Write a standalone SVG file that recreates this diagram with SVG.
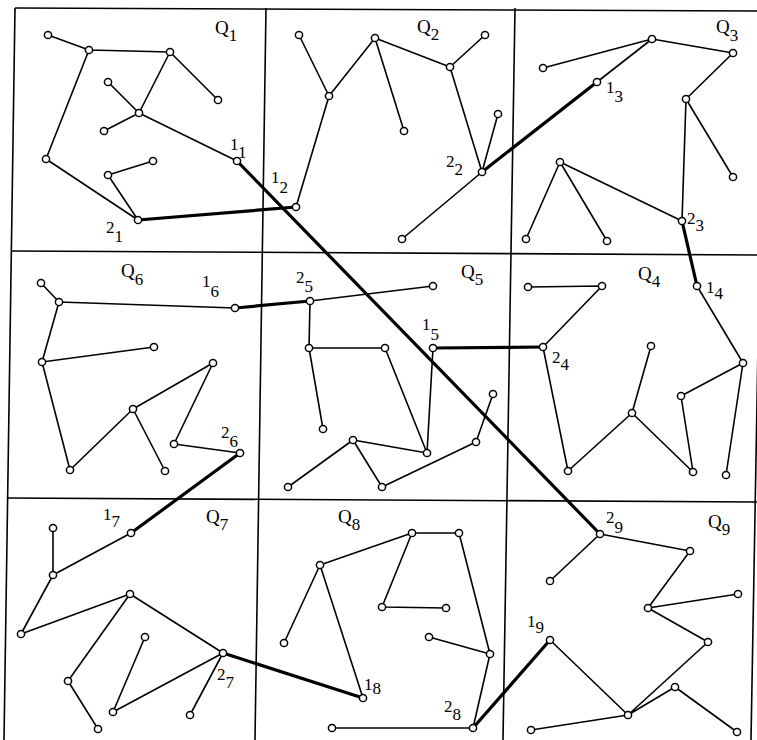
<svg xmlns="http://www.w3.org/2000/svg" width="757" height="740" viewBox="0 0 757 740">
<style>
.grid line{stroke:#000;stroke-width:1.6}
.gh{stroke-width:2.4}
.e{stroke:#000;stroke-width:1.6;fill:none}
.t{stroke:#000;stroke-width:3.2;fill:none}
.n circle{fill:#fff;stroke:#000;stroke-width:1.5}
text{font-family:"Liberation Serif","Times New Roman",serif;fill:#000}
.q{font-size:19px}
.d{font-size:17px}
</style>
<rect width="757" height="740" fill="#fff"/>
<g class="grid" id="grid">
<line class="gh" x1="15" y1="8" x2="757" y2="11"/>
<line class="gh" x1="12" y1="251" x2="757" y2="255"/>
<line class="gh" x1="7" y1="498" x2="757" y2="502"/>
<line x1="15" y1="8" x2="4" y2="740"/>
<line x1="266" y1="8" x2="255" y2="740"/>
<line x1="515" y1="8" x2="503" y2="740"/>
<line x1="764" y1="8" x2="751" y2="740"/>
</g>
<g id="connectors">
<g class="e">
<path d="M48,35L89,50M89,50L170,52M170,52L218,100M170,52L139,113M108,82L139,113M139,113L104,131M139,113L237,161M89,50L46,159M46,159L138,220M108,175L153,161M108,175L138,220"/>
<path d="M299,35L329,96M329,96L375,38M375,38L404,131M375,38L450,67M450,67L485,35M450,67L482,172M482,172L498,114M329,96L296,207M482,172L402,239"/>
<path d="M543,68L652,39M652,39L733,53M652,39L597,82M733,53L686,99M686,99L733,177M686,99L682,221M560,162L682,221M560,162L526,239M560,162L607,241"/>
<path d="M41,283L59,302M59,302L235,308M59,302L42,362M42,362L154,347M42,362L70,470M70,470L133,409M133,409L213,363M133,409L165,471M213,363L174,444M174,444L240,453"/>
<path d="M310,301L433,286M310,301L309,348M309,348L385,348M309,348L323,429M385,348L427,453M433,348L427,453M353,440L427,453M353,440L288,487M353,440L382,487M382,487L476,442M476,442L493,394"/>
<path d="M528,287L602,286M602,286L543,347M543,347L568,471M568,471L632,413M632,413L651,346M632,413L693,472M693,472L681,396M681,396L743,363M743,363L697,286M743,363L726,475"/>
<path d="M131,533L53,575M53,528L53,575M53,575L21,634M21,634L130,594M130,594L223,653M130,594L68,681M68,681L98,729M145,637L113,712M113,712L223,653M223,653L190,715"/>
<path d="M320,565L412,533M412,533L459,533M412,533L382,607M382,607L446,608M459,533L490,654M429,637L490,654M490,654L473,728M320,565L284,643M320,565L363,698M332,728L473,728"/>
<path d="M600,534L690,551M600,534L550,581M690,551L648,608M648,608L738,594M648,608L708,642M708,642L628,715M550,640L628,715M628,715L675,687M675,687L737,732M628,715L531,730"/>
</g>
<g class="t">
<path d="M237,161L600,534M138,220L296,207M482,172L597,82M682,221L697,286M433,348L543,347M235,308L310,301M240,453L131,533M223,653L363,698M473,728L550,640"/>
</g>
</g>
<g class="n">
<g id="q1a"><circle cx="48" cy="35" r="3.6"/></g>
<g id="q1b"><circle cx="89" cy="50" r="3.6"/></g>
<g id="q1c"><circle cx="170" cy="52" r="3.6"/></g>
<g id="q1d"><circle cx="218" cy="100" r="3.6"/></g>
<g id="q1e"><circle cx="108" cy="82" r="3.6"/></g>
<g id="q1f"><circle cx="139" cy="113" r="3.6"/></g>
<g id="q1g"><circle cx="104" cy="131" r="3.6"/></g>
<g id="q1h"><circle cx="46" cy="159" r="3.6"/></g>
<g id="q1i"><circle cx="153" cy="161" r="3.6"/></g>
<g id="q1j"><circle cx="108" cy="175" r="3.6"/></g>
<g id="n2_1"><circle cx="138" cy="220" r="3.6"/></g>
<g id="n1_1"><circle cx="237" cy="161" r="3.6"/></g>
<g id="q2a"><circle cx="299" cy="35" r="3.6"/></g>
<g id="q2b"><circle cx="375" cy="38" r="3.6"/></g>
<g id="q2c"><circle cx="485" cy="35" r="3.6"/></g>
<g id="q2d"><circle cx="450" cy="67" r="3.6"/></g>
<g id="q2e"><circle cx="329" cy="96" r="3.6"/></g>
<g id="q2f"><circle cx="404" cy="131" r="3.6"/></g>
<g id="q2g"><circle cx="498" cy="114" r="3.6"/></g>
<g id="n2_2"><circle cx="482" cy="172" r="3.6"/></g>
<g id="n1_2"><circle cx="296" cy="207" r="3.6"/></g>
<g id="q2j"><circle cx="402" cy="239" r="3.6"/></g>
<g id="q3a"><circle cx="543" cy="68" r="3.6"/></g>
<g id="q3b"><circle cx="652" cy="39" r="3.6"/></g>
<g id="q3c"><circle cx="733" cy="53" r="3.6"/></g>
<g id="n1_3"><circle cx="597" cy="82" r="3.6"/></g>
<g id="q3e"><circle cx="686" cy="99" r="3.6"/></g>
<g id="q3f"><circle cx="733" cy="177" r="3.6"/></g>
<g id="q3g"><circle cx="560" cy="162" r="3.6"/></g>
<g id="n2_3"><circle cx="682" cy="221" r="3.6"/></g>
<g id="q3i"><circle cx="526" cy="239" r="3.6"/></g>
<g id="q3j"><circle cx="607" cy="241" r="3.6"/></g>
<g id="q6a"><circle cx="41" cy="283" r="3.6"/></g>
<g id="q6b"><circle cx="59" cy="302" r="3.6"/></g>
<g id="n1_6"><circle cx="235" cy="308" r="3.6"/></g>
<g id="q6d"><circle cx="42" cy="362" r="3.6"/></g>
<g id="q6e"><circle cx="154" cy="347" r="3.6"/></g>
<g id="q6f"><circle cx="213" cy="363" r="3.6"/></g>
<g id="q6g"><circle cx="133" cy="409" r="3.6"/></g>
<g id="q6h"><circle cx="70" cy="470" r="3.6"/></g>
<g id="q6i"><circle cx="165" cy="471" r="3.6"/></g>
<g id="q6j"><circle cx="174" cy="444" r="3.6"/></g>
<g id="n2_6"><circle cx="240" cy="453" r="3.6"/></g>
<g id="n2_5"><circle cx="310" cy="301" r="3.6"/></g>
<g id="q5b"><circle cx="433" cy="286" r="3.6"/></g>
<g id="q5c"><circle cx="309" cy="348" r="3.6"/></g>
<g id="q5d"><circle cx="385" cy="348" r="3.6"/></g>
<g id="n1_5"><circle cx="433" cy="348" r="3.6"/></g>
<g id="q5f"><circle cx="323" cy="429" r="3.6"/></g>
<g id="q5g"><circle cx="353" cy="440" r="3.6"/></g>
<g id="q5h"><circle cx="427" cy="453" r="3.6"/></g>
<g id="q5i"><circle cx="493" cy="394" r="3.6"/></g>
<g id="q5j"><circle cx="476" cy="442" r="3.6"/></g>
<g id="q5k"><circle cx="288" cy="487" r="3.6"/></g>
<g id="q5l"><circle cx="382" cy="487" r="3.6"/></g>
<g id="q4a"><circle cx="528" cy="287" r="3.6"/></g>
<g id="q4b"><circle cx="602" cy="286" r="3.6"/></g>
<g id="n1_4"><circle cx="697" cy="286" r="3.6"/></g>
<g id="n2_4"><circle cx="543" cy="347" r="3.6"/></g>
<g id="q4e"><circle cx="651" cy="346" r="3.6"/></g>
<g id="q4f"><circle cx="743" cy="363" r="3.6"/></g>
<g id="q4g"><circle cx="681" cy="396" r="3.6"/></g>
<g id="q4h"><circle cx="632" cy="413" r="3.6"/></g>
<g id="q4i"><circle cx="568" cy="471" r="3.6"/></g>
<g id="q4j"><circle cx="693" cy="472" r="3.6"/></g>
<g id="q4k"><circle cx="726" cy="475" r="3.6"/></g>
<g id="n1_7"><circle cx="131" cy="533" r="3.6"/></g>
<g id="q7b"><circle cx="53" cy="528" r="3.6"/></g>
<g id="q7c"><circle cx="53" cy="575" r="3.6"/></g>
<g id="q7d"><circle cx="21" cy="634" r="3.6"/></g>
<g id="q7e"><circle cx="130" cy="594" r="3.6"/></g>
<g id="n2_7"><circle cx="223" cy="653" r="3.6"/></g>
<g id="q7g"><circle cx="145" cy="637" r="3.6"/></g>
<g id="q7h"><circle cx="68" cy="681" r="3.6"/></g>
<g id="q7i"><circle cx="113" cy="712" r="3.6"/></g>
<g id="q7j"><circle cx="190" cy="715" r="3.6"/></g>
<g id="q7k"><circle cx="98" cy="729" r="3.6"/></g>
<g id="q8a"><circle cx="412" cy="533" r="3.6"/></g>
<g id="q8b"><circle cx="459" cy="533" r="3.6"/></g>
<g id="q8c"><circle cx="320" cy="565" r="3.6"/></g>
<g id="q8d"><circle cx="284" cy="643" r="3.6"/></g>
<g id="q8e"><circle cx="382" cy="607" r="3.6"/></g>
<g id="q8f"><circle cx="446" cy="608" r="3.6"/></g>
<g id="q8g"><circle cx="429" cy="637" r="3.6"/></g>
<g id="q8h"><circle cx="490" cy="654" r="3.6"/></g>
<g id="n1_8"><circle cx="363" cy="698" r="3.6"/></g>
<g id="n2_8"><circle cx="473" cy="728" r="3.6"/></g>
<g id="q8k"><circle cx="332" cy="728" r="3.6"/></g>
<g id="n2_9"><circle cx="600" cy="534" r="3.6"/></g>
<g id="q9b"><circle cx="690" cy="551" r="3.6"/></g>
<g id="q9c"><circle cx="550" cy="581" r="3.6"/></g>
<g id="q9d"><circle cx="738" cy="594" r="3.6"/></g>
<g id="q9e"><circle cx="648" cy="608" r="3.6"/></g>
<g id="q9f"><circle cx="708" cy="642" r="3.6"/></g>
<g id="n1_9"><circle cx="550" cy="640" r="3.6"/></g>
<g id="q9h"><circle cx="675" cy="687" r="3.6"/></g>
<g id="q9i"><circle cx="628" cy="715" r="3.6"/></g>
<g id="q9j"><circle cx="531" cy="730" r="3.6"/></g>
<g id="q9k"><circle cx="737" cy="732" r="3.6"/></g>
</g>
<g id="labels">
<text class="q" x="215" y="34">Q<tspan dy="7" font-size="17">1</tspan></text>
<text class="q" x="417" y="33">Q<tspan dy="7" font-size="17">2</tspan></text>
<text class="q" x="716" y="33">Q<tspan dy="8" font-size="17">3</tspan></text>
<text class="q" x="121" y="277">Q<tspan dy="8" font-size="17">6</tspan></text>
<text class="q" x="461" y="278">Q<tspan dy="7" font-size="17">5</tspan></text>
<text class="q" x="638" y="280">Q<tspan dy="7" font-size="17">4</tspan></text>
<text class="q" x="206" y="523">Q<tspan dy="7" font-size="17">7</tspan></text>
<text class="q" x="338" y="523">Q<tspan dy="7" font-size="17">8</tspan></text>
<text class="q" x="708" y="528">Q<tspan dy="7" font-size="17">9</tspan></text>
<text class="d" x="230" y="150">1<tspan dy="8">1</tspan></text>
<text class="d" x="106" y="233">2<tspan dy="9">1</tspan></text>
<text class="d" x="271" y="183">1<tspan dy="10">2</tspan></text>
<text class="d" x="446" y="167">2<tspan dy="8">2</tspan></text>
<text class="d" x="606" y="93">1<tspan dy="9">3</tspan></text>
<text class="d" x="687" y="224">2<tspan dy="7">3</tspan></text>
<text class="d" x="202" y="287">1<tspan dy="10">6</tspan></text>
<text class="d" x="221" y="438">2<tspan dy="9">6</tspan></text>
<text class="d" x="296" y="283">2<tspan dy="9">5</tspan></text>
<text class="d" x="422" y="330">1<tspan dy="10">5</tspan></text>
<text class="d" x="706" y="293">1<tspan dy="6">4</tspan></text>
<text class="d" x="552" y="363">2<tspan dy="7">4</tspan></text>
<text class="d" x="103" y="520">1<tspan dy="7">7</tspan></text>
<text class="d" x="217" y="680">2<tspan dy="8">7</tspan></text>
<text class="d" x="364" y="690">1<tspan dy="4">8</tspan></text>
<text class="d" x="444" y="712">2<tspan dy="8">8</tspan></text>
<text class="d" x="606" y="523">2<tspan dy="10">9</tspan></text>
<text class="d" x="527" y="627">1<tspan dy="6">9</tspan></text>
</g>
</svg>
